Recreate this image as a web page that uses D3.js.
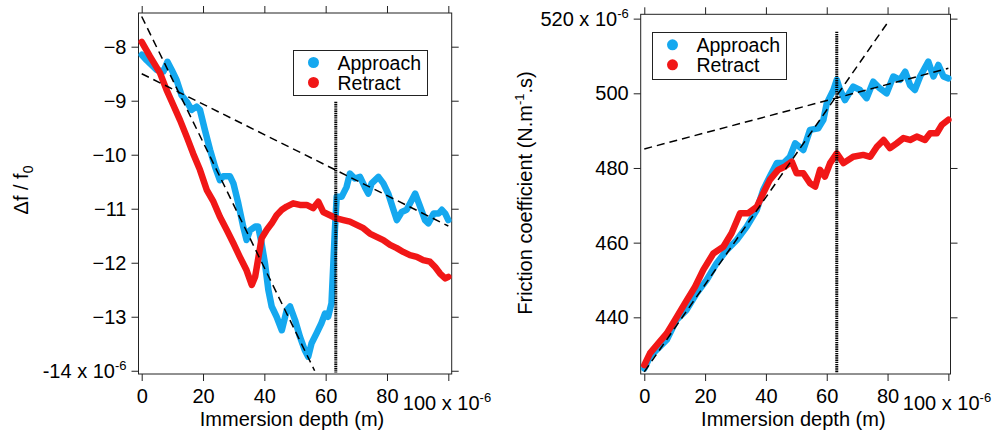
<!DOCTYPE html>
<html lang="en">
<head>
<meta charset="UTF-8">
<title>Approach / Retract</title>
<script src="https://d3js.org/d3.v7.min.js"></script>
<style>
  body { margin: 0; background: #fff; }
  text { font-family: "Liberation Sans", Arial, sans-serif; fill: #000; }
</style>
</head>
<body>
<div id="chart"></div>
<script>
// immersion depth in units of 1e-6 m
const approachDepthL = [0,1.6,4.9,7.1,8.4,9.8,11.4,13,14.7,16.3,17.9,19,20.6,22.3,23.9,25.5,26.6,28.8,29.9,31.5,33.1,34.2,35.3,37,38,39.1,40.2,41.3,42.4,44,45.7,47.3,48.4,50,51.6,53.2,54.3,55.4,57,58.6,59.8,60.8,61.9,62.5,63,63.6,65.2,66.8,67.9,69.5,71.2,72.8,73.9,75,77.2,78.8,80.4,82.1,83.2,84.8,86.4,88.1,89.2,90.8,92.4,93.5,95.2,96.8,97.9,99,100];
const approachShift = [-8.15,-8.25,-8.43,-8.46,-8.28,-8.43,-8.62,-8.9,-9.02,-9.17,-9.11,-9.17,-9.54,-9.91,-10.22,-10.47,-10.4,-10.4,-10.53,-10.9,-11.33,-11.58,-11.4,-11.33,-11.33,-11.64,-12.01,-12.5,-12.81,-13.0,-13.25,-12.88,-12.81,-13.06,-13.37,-13.62,-13.74,-13.49,-13.31,-13.12,-12.94,-13.0,-12.75,-12.01,-11.4,-10.78,-10.78,-10.6,-10.35,-10.44,-10.41,-10.6,-10.72,-10.53,-10.41,-10.53,-10.72,-11.02,-11.21,-11.06,-11.02,-10.84,-10.72,-10.96,-11.21,-11.27,-11.09,-11.09,-11.02,-11.09,-11.21];

const retractDepthL = [0,2.7,6,8.1,10.3,12.5,14.7,16.8,19,21.2,23.4,25.5,27.7,29.9,32,34.2,35.9,37,38.1,39.1,40.8,42.4,44,45.7,47.3,49.4,51.6,53.8,55.9,57.6,59.2,61.4,63.6,65.8,67.9,70.1,72.3,74.4,76.6,78.8,81,83.2,85.3,87.5,89.7,91.8,94,95.7,97.3,99,100];
const retractShift = [-7.91,-8.18,-8.49,-8.8,-9.08,-9.36,-9.67,-9.98,-10.28,-10.65,-10.87,-11.15,-11.39,-11.64,-11.89,-12.14,-12.41,-12.26,-11.89,-11.55,-11.39,-11.27,-11.12,-11.02,-10.96,-10.9,-10.93,-10.93,-10.99,-10.87,-11.06,-11.12,-11.18,-11.21,-11.24,-11.3,-11.36,-11.46,-11.52,-11.58,-11.67,-11.73,-11.8,-11.86,-11.89,-11.95,-11.98,-12.08,-12.2,-12.29,-12.26];

const approachDepthR = [0,1.9,4.1,7.4,10.6,13.9,17.2,20.5,23.8,27.1,30.4,33.7,37,39.1,41.3,43.6,45.8,47.9,49.6,52.3,54.5,57.2,58.9,60,62.2,63.3,64.4,66,68.7,70.9,73.1,75.3,77.5,79.7,81.9,84.1,85.8,87.4,89,90.7,93.4,95.1,96.7,98.4,100];
const approachFriction = [426.3,429.5,431.3,434,439.3,442,446.4,450,454.5,458,460.7,464.3,468.8,474.1,477.7,481.3,481.3,483,486.6,484.8,490.2,490.6,492.9,497.3,500.9,503.6,500.9,498.2,501.8,500.9,498.7,503.1,501.3,500,504.5,503.6,505.8,502.2,500.9,504.5,508.5,504.5,507.6,504.5,504];

const retractDepthR = [0,1.9,4.6,7.4,10.1,13.4,16.7,19.4,22.7,26,28.7,31.5,34.2,37,39.1,41.3,44,46.3,48.5,50.1,52.3,54.5,56.2,57.8,59.4,61.1,63.3,65.5,68.7,72,74.3,76.5,78.7,80.8,83,85.2,87.4,89.6,92.3,94,96.2,97.8,100];
const retractFriction = [427.2,430.4,433,435.7,439.3,443.8,448.2,452.7,457.1,458.9,462.5,467.9,467.9,469.6,473.2,476.8,479.5,480.4,481.7,478.6,478.6,475.9,475,479.5,477.7,481.3,483.9,481.3,483,483.5,483,485.7,487.5,485.3,486.6,488,487.5,488.4,487.5,489.3,489.3,491.5,492.9];

// linear fits (dashed) : [x0, x1] and [y0, y1]
const fitSteepL = { x: [0, 56.4], y: [-7.44, -14.0] };
const fitFlatL  = { x: [0, 100], y: [-8.5, -11.32] };
const fitSteepR = { x: [0, 80], y: [425.4, 518.9] };
const fitFlatR  = { x: [0, 100], y: [485.1, 506.7] };

const transitionDepth = 63.3;
const xTicks = [0, 20, 40, 60, 80, 100];
const shiftTicks = [-14, -13, -12, -11, -10, -9, -8];
const frictionTicks = [440, 460, 480, 500, 520];
const seriesNames = ["Approach", "Retract"];
const colors = { Approach: "#15a8ef", Retract: "#f11717" };

const width = 997, height = 436;

const svg = d3.select("#chart").append("svg")
    .attr("width", width)
    .attr("height", height);

function zip(xs, ys) { return xs.map((x, i) => [x, ys[i]]); }

function drawPanel(p) {
  const x = d3.scaleLinear().domain(p.xDomain).range(p.xRange);
  const y = d3.scaleLinear().domain(p.yDomain).range(p.yRange);
  const g = svg.append("g");
  const [left, right] = p.xRange;
  const [bottom, top] = p.yRange;

  // frame
  g.append("rect")
      .attr("x", left).attr("y", top)
      .attr("width", right - left).attr("height", bottom - top)
      .attr("fill", "none").attr("stroke", "#222").attr("stroke-width", 1);

  const styleAxis = a => {
    a.select(".domain").remove();
    a.selectAll(".tick line").attr("stroke", "#222");
    a.selectAll(".tick text").attr("font-size", 20).attr("fill", "#000");
  };

  // outside ticks on all four sides
  g.append("g").attr("transform", `translate(0,${bottom})`)
      .call(d3.axisBottom(x).tickValues(xTicks).tickFormat(d3.format("d"))
          .tickSize(7).tickPadding(8).tickSizeOuter(0))
      .call(styleAxis)
      .call(a => a.selectAll(".tick text").filter(d => d === 100)
          .attr("text-anchor", "start").attr("x", -46).attr("y", 22)
          .text("100 x 10")
          .append("tspan").attr("dy", -8).attr("font-size", 13).text("-6"));
  g.append("g").attr("transform", `translate(0,${top})`)
      .call(d3.axisTop(x).tickValues(xTicks).tickSize(7).tickFormat("").tickSizeOuter(0))
      .call(styleAxis);
  g.append("g").attr("transform", `translate(${left},0)`)
      .call(d3.axisLeft(y).tickValues(p.yTicks).tickFormat(d3.format("d"))
          .tickSize(7).tickPadding(5).tickSizeOuter(0))
      .call(styleAxis)
      .call(a => a.selectAll(".tick text").filter(d => d === p.expTick)
          .text(p.expTick + " x 10")
          .append("tspan").attr("dy", -8).attr("font-size", 13).text("-6"));
  g.append("g").attr("transform", `translate(${right},0)`)
      .call(d3.axisRight(y).tickValues(p.yTicks).tickSize(7).tickFormat("").tickSizeOuter(0))
      .call(styleAxis);

  // x title
  g.append("text")
      .attr("x", (x(0) + x(100)) / 2 - 3).attr("y", 426)
      .attr("text-anchor", "middle").attr("font-size", 20)
      .text("Immersion depth (m)");

  // data traces
  const line = d3.line().x(d => x(d[0])).y(d => y(d[1]));
  p.series.forEach(s => {
    g.append("path")
        .datum(zip(s.x, s.y))
        .attr("fill", "none")
        .attr("stroke", colors[s.name])
        .attr("stroke-width", 6.5)
        .attr("stroke-linejoin", "round")
        .attr("stroke-linecap", "round")
        .attr("d", line);
  });

  // fits
  p.fits.forEach(f => {
    g.append("path")
        .datum(zip(f.x, f.y))
        .attr("fill", "none").attr("stroke", "#000")
        .attr("stroke-width", 1.5).attr("stroke-dasharray", "8,5")
        .attr("d", line);
  });

  // transition marker
  g.append("line")
      .attr("x1", x(transitionDepth)).attr("x2", x(transitionDepth))
      .attr("y1", y(p.markerTop)).attr("y2", bottom - 1)
      .attr("stroke", "#000").attr("stroke-width", 3)
      .attr("stroke-dasharray", "1.4,0.8");

  // legend
  const lg = g.append("g");
  lg.append("rect")
      .attr("x", p.legend.x).attr("y", p.legend.y)
      .attr("width", 134).attr("height", p.legend.h)
      .attr("fill", "#fff").attr("stroke", "#222").attr("stroke-width", 1);
  seriesNames.forEach((name, i) => {
    const cy = p.legend.y + p.legend.first + i * p.legend.step;
    lg.append("circle")
        .attr("cx", p.legend.x + 20).attr("cy", cy).attr("r", 5.5)
        .attr("fill", colors[name]);
    lg.append("text")
        .attr("x", p.legend.x + 44).attr("y", cy + 7)
        .attr("font-size", 19.5).text(name);
  });

  return g;
}

const left = drawPanel({
  xDomain: [-1.04, 101.1], xRange: [138.5, 451.7],
  yDomain: [-14.06, -7.376], yRange: [374, 13],
  yTicks: shiftTicks, expTick: -14,
  series: [
    { name: "Approach", x: approachDepthL, y: approachShift },
    { name: "Retract", x: retractDepthL, y: retractShift }
  ],
  fits: [fitSteepL, fitFlatL],
  markerTop: -9.02,
  legend: { x: 293.5, y: 50.5, h: 45, first: 12, step: 20 }
});

left.append("text")
    .attr("transform", "translate(28,190) rotate(-90)")
    .attr("text-anchor", "middle").attr("font-size", 20)
    .text("\u0394f / f")
    .append("tspan").attr("dy", 5).attr("font-size", 14).text("0");

const right = drawPanel({
  xDomain: [-1.18, 100.7], xRange: [640.7, 950.5],
  yDomain: [424.82, 521.16], yRange: [374, 14.3],
  yTicks: frictionTicks, expTick: 520,
  series: [
    { name: "Approach", x: approachDepthR, y: approachFriction },
    { name: "Retract", x: retractDepthR, y: retractFriction }
  ],
  fits: [fitSteepR, fitFlatR],
  markerTop: 516.5,
  legend: { x: 652.5, y: 32.5, h: 47, first: 12.3, step: 20 }
});

const rt = right.append("text")
    .attr("transform", "translate(532,193) rotate(-90)")
    .attr("text-anchor", "middle").attr("font-size", 20)
    .text("Friction coefficient (N.m");
rt.append("tspan").attr("dy", -8).attr("font-size", 13).text("-1");
rt.append("tspan").attr("dy", 8).text(".s)");
</script>
</body>
</html>
